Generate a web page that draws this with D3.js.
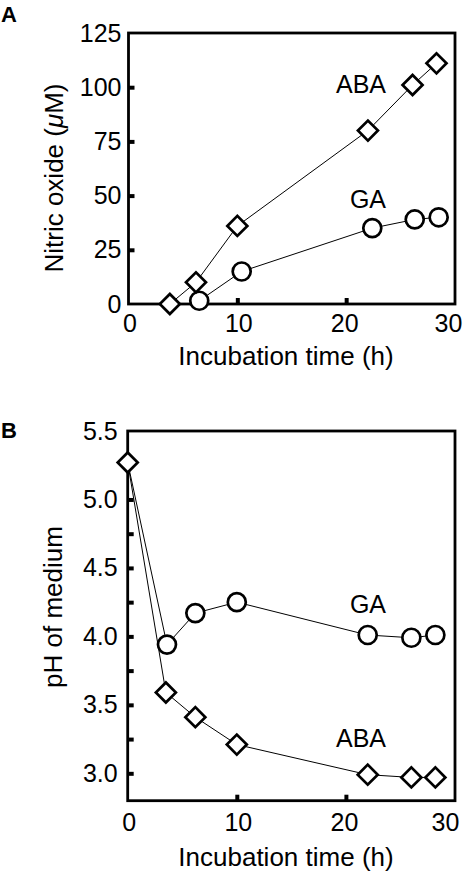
<!DOCTYPE html>
<html>
<head>
<meta charset="utf-8">
<script src="https://cdn.jsdelivr.net/npm/d3@7"></script>
<style>
  html, body { margin: 0; padding: 0; background: #fff; }
  svg { display: block; font-family: "Liberation Sans", Arial, Helvetica, sans-serif; }
</style>
</head>
<body>
<svg id="chart" width="465" height="873"></svg>
<script>
// ---------- Data ----------
// Panel A: nitric oxide (µM) vs incubation time (h)
const noAbaTime = [3.8, 6.2, 10.0, 22.0, 26.1, 28.3];
const noAbaValue = [0, 10, 36, 80, 101, 111];
const noGaTime = [6.5, 10.4, 22.4, 26.3, 28.5];
const noGaValue = [1.5, 15, 35, 39, 40];

// Panel B: pH of medium vs incubation time (h)
const phAbaTime = [0, 3.5, 6.2, 10.0, 22.0, 26.0, 28.2];
const phAbaValue = [5.27, 3.59, 3.41, 3.21, 2.99, 2.97, 2.97];
const phGaTime = [0, 3.6, 6.2, 10.0, 22.0, 26.0, 28.2];
const phGaValue = [5.27, 3.94, 4.17, 4.25, 4.01, 3.99, 4.01];

// Tick labels / tick marks
const timeTickLabels = [0, 10, 20, 30];
const timeTickMarks = [10, 20];
const noTickLabels = [0, 25, 50, 75, 100, 125];
const noTickMarks = [25, 50, 75, 100];
const phTickLabels = [3.0, 3.5, 4.0, 4.5, 5.0, 5.5];
const phTickMarks = [3.0, 3.25, 3.5, 3.75, 4.0, 4.25, 4.5, 4.75, 5.0, 5.25];

// ---------- Drawing ----------
const svg = d3.select("#chart");
const FONT_TICK = 25, FONT_TITLE = 26, FONT_LABEL = 25;
const FF = "Liberation Sans, Arial, Helvetica, sans-serif";

function drawPanel(cfg) {
  const g = svg.append("g");
  const x = cfg.x, y = cfg.y;
  const [x0, x1] = x.range();
  const [yb, yt] = y.range();

  // tick marks (inward)
  const xMarks = g.append("g").attr("transform", `translate(0,${yb})`)
    .call(d3.axisBottom(x).tickValues(cfg.xMarks).tickSize(-6).tickFormat(""));
  const yMarks = g.append("g").attr("transform", `translate(${x0},0)`)
    .call(d3.axisLeft(y).tickValues(cfg.yMarks).tickSize(-6).tickFormat(""));
  [xMarks, yMarks].forEach(a => {
    a.select(".domain").remove();
    a.selectAll(".tick line").attr("stroke", "#000").attr("stroke-width", 4);
  });

  // tick labels
  const xLab = g.append("g").attr("transform", `translate(0,${yb})`)
    .call(d3.axisBottom(x).tickValues(cfg.xLabels).tickSize(0).tickPadding(cfg.xPad).tickFormat(d3.format("d")));
  const yLab = g.append("g").attr("transform", `translate(${x0},0)`)
    .call(d3.axisLeft(y).tickValues(cfg.yLabels).tickSize(0).tickPadding(cfg.yPad).tickFormat(cfg.yFormat));
  [xLab, yLab].forEach(a => {
    a.select(".domain").remove();
    a.attr("font-family", FF);
    a.selectAll(".tick text").attr("font-size", FONT_TICK).attr("fill", "#000");
  });
  xLab.selectAll(".tick text").attr("dx", d => d === 30 ? cfg.lastDx : (d === 20 ? -2 : 1));

  // frame
  g.append("rect")
    .attr("x", x0).attr("y", yt)
    .attr("width", x1 - x0).attr("height", yb - yt)
    .attr("fill", "none").attr("stroke", "#000").attr("stroke-width", 2.8);

  const line = d3.line().x(d => x(d[0])).y(d => y(d[1]));

  const ga = cfg.gaT.map((t, i) => [t, cfg.gaV[i]]);
  const aba = cfg.abaT.map((t, i) => [t, cfg.abaV[i]]);
  g.append("path").datum(ga).attr("d", line)
    .attr("fill", "none").attr("stroke", "#000").attr("stroke-width", 1);
  g.append("path").datum(aba).attr("d", line)
    .attr("fill", "none").attr("stroke", "#000").attr("stroke-width", 1);

  // circles (skip a point hidden under the shared ABA start marker)
  const visibleGa = ga.filter(p => !aba.some(q => q[0] === p[0] && q[1] === p[1]));
  g.selectAll("circle.ga").data(visibleGa).join("circle")
    .attr("cx", d => x(d[0])).attr("cy", d => y(d[1])).attr("r", 9)
    .attr("fill", "#fff").attr("stroke", "#000").attr("stroke-width", 2.7);

  const diamond = d3.symbol().type(d3.symbolSquare).size(200);
  g.selectAll("path.aba").data(aba).join("path")
    .attr("d", diamond)
    .attr("transform", d => `translate(${x(d[0])},${y(d[1])}) rotate(45)`)
    .attr("fill", "#fff").attr("stroke", "#000").attr("stroke-width", 2.7);

  // series labels
  g.append("text").attr("x", 386).attr("y", cfg.abaLabelY).attr("text-anchor", "end")
    .attr("font-size", FONT_LABEL).text("ABA");
  g.append("text").attr("x", 386).attr("y", cfg.gaLabelY).attr("text-anchor", "end")
    .attr("font-size", FONT_LABEL).text("GA");

  // axis titles
  g.append("text").attr("x", 286).attr("y", cfg.xTitleY).attr("text-anchor", "middle")
    .attr("font-size", FONT_TITLE).text("Incubation time (h)");
  const yt2 = g.append("text")
    .attr("transform", `translate(${cfg.yTitleX},${cfg.yTitleY}) rotate(-90)`)
    .attr("text-anchor", "middle").attr("font-size", FONT_TITLE);
  cfg.yTitle(yt2);

  // panel letter
  g.append("text").attr("x", 1).attr("y", cfg.letterY)
    .attr("font-size", 22).attr("font-weight", "bold").text(cfg.letter);
}

drawPanel({
  x: d3.scaleLinear().domain([0, 30]).range([128.5, 455]),
  y: d3.scaleLinear().domain([0, 125]).range([304, 33]),
  xMarks: timeTickMarks, yMarks: noTickMarks,
  xLabels: timeTickLabels, yLabels: noTickLabels,
  xPad: 10, yPad: 7, lastDx: -7,
  yFormat: d3.format("d"),
  gaT: noGaTime, gaV: noGaValue, abaT: noAbaTime, abaV: noAbaValue,
  abaLabelY: 93, gaLabelY: 208,
  xTitleY: 365,
  yTitleX: 63, yTitleY: 178,
  yTitle: t => {
    t.append("tspan").text("Nitric oxide (");
    t.append("tspan").attr("font-style", "italic").text("\u03BC");
    t.append("tspan").text("M)");
  },
  letter: "A", letterY: 22
});

drawPanel({
  x: d3.scaleLinear().domain([0, 30]).range([127.7, 455]),
  y: d3.scaleLinear().domain([2.8, 5.5]).range([800.7, 431]),
  xMarks: timeTickMarks, yMarks: phTickMarks,
  xLabels: timeTickLabels, yLabels: phTickLabels,
  xPad: 13, yPad: 10, lastDx: -10,
  yFormat: d3.format(".1f"),
  gaT: phGaTime, gaV: phGaValue, abaT: phAbaTime, abaV: phAbaValue,
  abaLabelY: 747, gaLabelY: 613,
  xTitleY: 866,
  yTitleX: 62, yTitleY: 607,
  yTitle: t => t.text("pH of medium"),
  letter: "B", letterY: 438
});
</script>
</body>
</html>
